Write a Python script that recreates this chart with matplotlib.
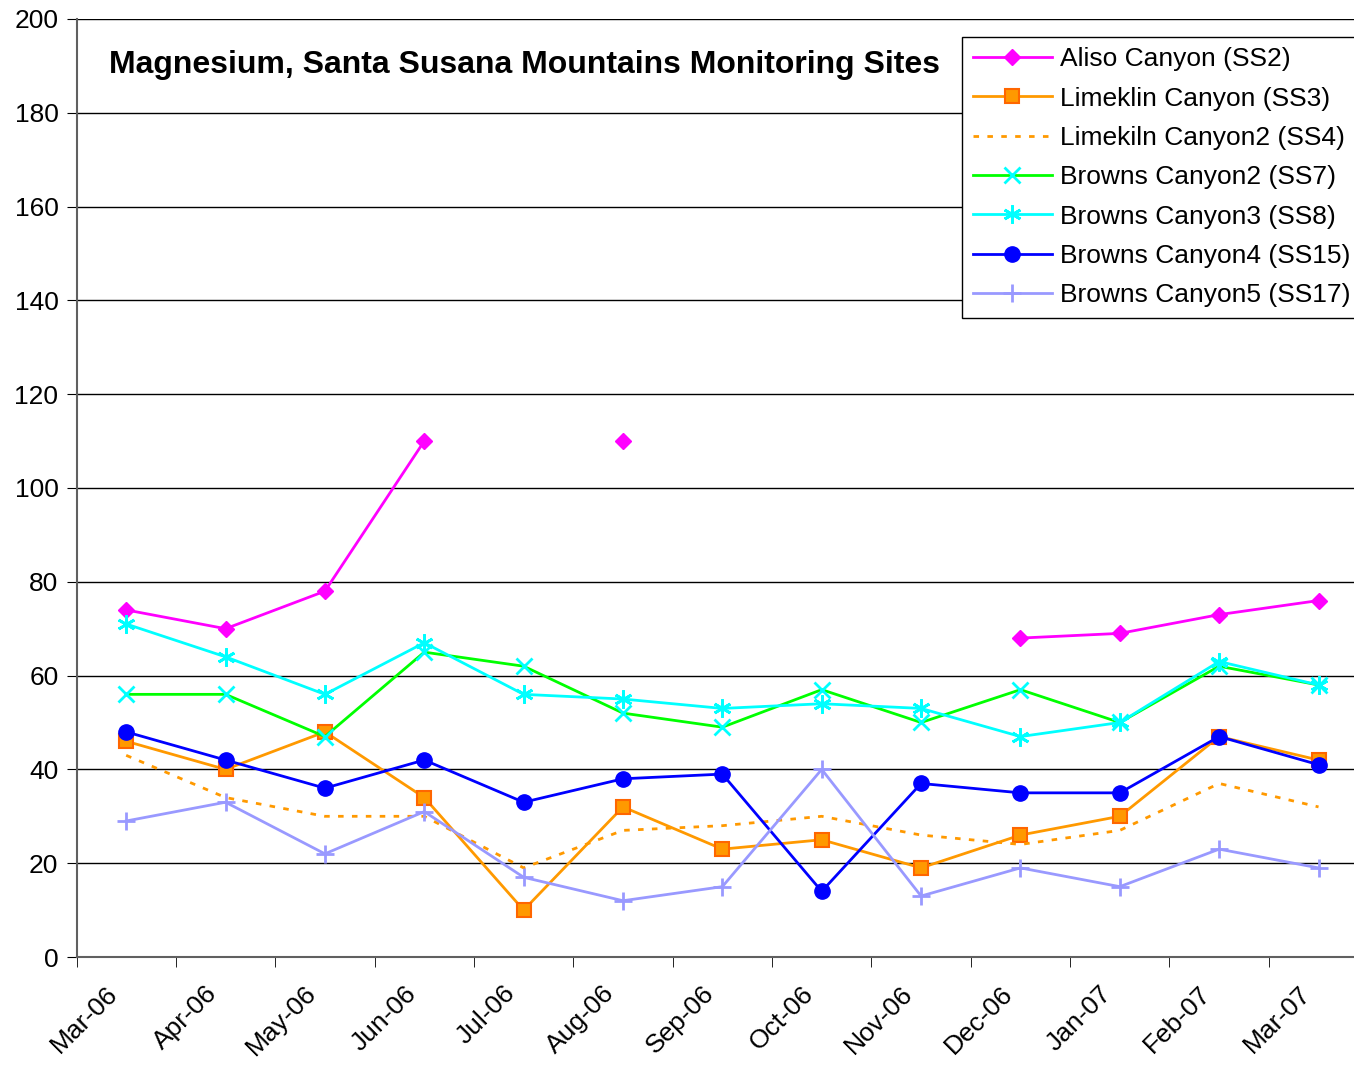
import matplotlib.pyplot as plt
import matplotlib.transforms as mtransforms
import numpy as np

plt.rcParams['font.family'] = ['Liberation Sans', 'DejaVu Sans']

months = ['Mar-06', 'Apr-06', 'May-06', 'Jun-06', 'Jul-06', 'Aug-06', 'Sep-06',
          'Oct-06', 'Nov-06', 'Dec-06', 'Jan-07', 'Feb-07', 'Mar-07']
nan = np.nan

# magnesium values per site (mg/L)
ss2 = [74, 70, 78, 110, nan, 110, nan, nan, nan, 68, 69, 73, 76]
ss3 = [46, 40, 48, 34, 10, 32, 23, 25, 19, 26, 30, 47, 42]
ss4 = [43, 34, 30, 30, 19, 27, 28, 30, 26, 24, 27, 37, 32]
ss7 = [56, 56, 47, 65, 62, 52, 49, 57, 50, 57, 50, 62, 58]
ss8 = [71, 64, 56, 67, 56, 55, 53, 54, 53, 47, 50, 63, 58]
ss15 = [48, 42, 36, 42, 33, 38, 39, 14, 37, 35, 35, 47, 41]
ss17 = [29, 33, 22, 31, 17, 12, 15, 40, 13, 19, 15, 23, 19]

x = np.arange(len(months))

fig = plt.figure(figsize=(13.54, 10.65), dpi=100)
ax = fig.add_axes([0.0565, 0.1014, 0.954, 0.8808])

ax.plot(x, ss2, color='#FF00FF', lw=2, marker='D', ms=8.5, label='Aliso Canyon (SS2)')
ax.plot(x, ss3, color='#FF9900', lw=2, marker='s', ms=10, mfc='#FF9900',
        mec='#FF6600', mew=1.5, label='Limeklin Canyon (SS3)')
ax.plot(x, ss4, color='#FF9900', lw=2, ls=(0, (2, 3)), label='Limekiln Canyon2 (SS4)')
ax.plot(x, ss7, color='#00FF00', lw=2, marker='x', ms=11, mec='#00FFFF', mew=2,
        label='Browns Canyon2 (SS7)')
ax.plot(x, ss8, color='#00FFFF', lw=2, marker=(6, 2, 0), ms=13, mec='#00FFFF', mew=2,
        label='Browns Canyon3 (SS8)')
ax.plot(x, ss15, color='#0000FF', lw=2, marker='o', ms=11, label='Browns Canyon4 (SS15)')
ax.plot(x, ss17, color='#9999FF', lw=2, marker='+', ms=13, mew=2, label='Browns Canyon5 (SS17)')

ax.set_xlim(-0.5, len(months) - 0.5)
ax.set_ylim(0, 200)
ax.set_yticks(np.arange(0, 201, 20))
ax.yaxis.grid(True, color='black', lw=1)
ax.set_axisbelow(True)

ax.set_xticks(x)
ax.set_xticklabels(months, rotation=45, ha='right', va='center', rotation_mode='anchor')
ax.set_xticks(np.arange(-0.5, len(months), 1), minor=True)
ax.tick_params(axis='x', which='major', length=0, labelsize=19, pad=20)
ax.tick_params(axis='x', which='minor', length=7, color='black')
ax.tick_params(axis='y', length=7, labelsize=19, pad=6)

# nudge the slanted month labels down-left
shift = mtransforms.ScaledTranslation(-0.12, -0.05, fig.dpi_scale_trans)
for lbl in ax.get_xticklabels():
    lbl.set_transform(lbl.get_transform() + shift)

for side in ['top', 'right']:
    ax.spines[side].set_visible(False)
ax.spines['left'].set_color('#606060')
ax.spines['bottom'].set_color('#606060')
ax.spines['left'].set_linewidth(1.5)
ax.spines['bottom'].set_linewidth(1.5)

ax.text(0.3468, 0.951, 'Magnesium, Santa Susana Mountains Monitoring Sites',
        transform=ax.transAxes, ha='center', va='center', fontsize=23, fontweight='bold')

leg = ax.legend(loc='upper left', bbox_to_anchor=(0.6855, 0.981), fontsize=19,
                frameon=True, fancybox=False, edgecolor='black', framealpha=1,
                handlelength=3.0, handletextpad=0.3, borderpad=0.4, labelspacing=0.58,
                borderaxespad=0)
leg.get_frame().set_linewidth(1)

fig.savefig('out.png', dpi=100)
